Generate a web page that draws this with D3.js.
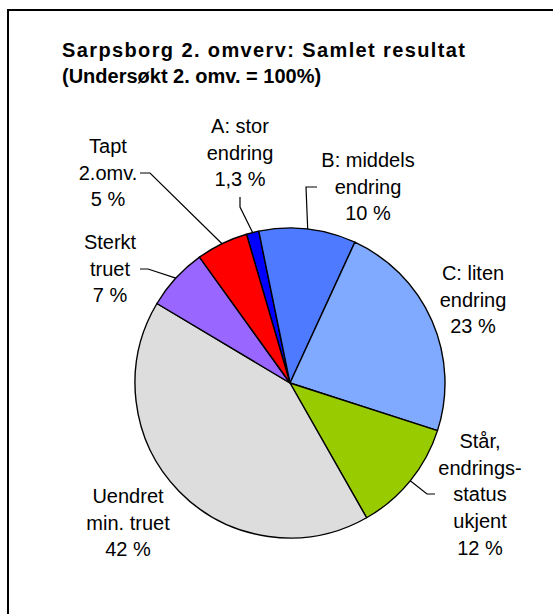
<!DOCTYPE html>
<html>
<head>
<meta charset="utf-8">
<script src="https://cdn.jsdelivr.net/npm/d3@7"></script>
<style>
  html, body { margin: 0; padding: 0; background: #fff; }
  svg { display: block; font-family: "Liberation Sans", Arial, sans-serif; }
</style>
</head>
<body>
<div id="chart"></div>
<script>
// Data
const categories = ["A: stor endring", "B: middels endring", "C: liten endring",
  "Står, endringsstatus ukjent", "Uendret min. truet", "Sterkt truet", "Tapt 2.omv."];
const values = [1.3, 10.1, 23.1, 11.8, 41.8, 6.5, 5.4];
const labelLines = [
  ["A: stor", "endring", "1,3 %"],
  ["B: middels", "endring", "10 %"],
  ["C: liten", "endring", "23 %"],
  ["Står,", "endrings-", "status", "ukjent", "12 %"],
  ["Uendret", "min. truet", "42 %"],
  ["Sterkt", "truet", "7 %"],
  ["Tapt", "2.omv.", "5 %"]
];
const titleLines = ["Sarpsborg 2. omverv: Samlet resultat", "(Undersøkt 2. omv. = 100%)"];

// Layout
const width = 553;
const height = 614;
const cx = 290, cy = 383, radius = 155;
const colors = ["#0000ff", "#4d7aff", "#80aaff", "#99cc00", "#dddddd", "#9966ff", "#ff0000"];
const lineGap = 26.7;
// label block: first baseline, relative to pie centre
const labelPos = [[-50, -250], [78, -216], [183, -103], [190, 65], [-162, 120], [-180, -134], [-182, -230]];
// leader lines: elbow + end point, relative to pie centre (null = no leader)
const leaders = [
  [[-50, -176], [-50, -186]],
  [[16, -196], [27, -196]],
  null,
  [[137, 111], [145, 111]],
  null,
  [[-142, -114], [-150, -114]],
  [[-140, -210], [-150, -210]]
];

const svg = d3.select('#chart')
  .append('svg')
  .attr('width', width)
  .attr('height', height);

// frame (right and bottom edges fall outside the picture)
svg.append('rect')
  .attr('x', 8).attr('y', 10)
  .attr('width', 600).attr('height', 700)
  .attr('fill', 'none')
  .attr('stroke', '#000')
  .attr('stroke-width', 2);

// Title
const titleWidths = [403, null];
svg.selectAll('.title')
  .data(titleLines)
  .enter()
  .append('text')
  .attr('class', 'title')
  .attr('x', 62)
  .attr('y', (d, i) => 57 + i * 26)
  .style('font-size', '20px')
  .style('font-weight', 'bold')
  .each(function (d, i) {
    if (titleWidths[i]) {
      d3.select(this).attr('textLength', titleWidths[i]).attr('lengthAdjust', 'spacing');
    }
  })
  .text(d => d);

const center = svg.append('g')
  .attr('transform', `translate(${cx}, ${cy})`);

const pie = d3.pie()
  .sort(null)
  .startAngle(-16.3 * Math.PI / 180)
  .endAngle(2 * Math.PI - 16.3 * Math.PI / 180);

const arcs = pie(values);
const arc = d3.arc().innerRadius(0).outerRadius(radius);

center.selectAll('.slice')
  .data(arcs)
  .enter()
  .append('path')
  .attr('class', 'slice')
  .attr('d', arc)
  .attr('fill', (d, i) => colors[i])
  .attr('stroke', '#000')
  .attr('stroke-width', 1.4)
  .attr('stroke-linejoin', 'round');

// Leader lines
center.selectAll('.leader')
  .data(arcs.filter((d, i) => leaders[i]))
  .enter()
  .append('polyline')
  .attr('class', 'leader')
  .attr('points', d => {
    const mid = (d.startAngle + d.endAngle) / 2;
    const edge = [Math.sin(mid) * radius, -Math.cos(mid) * radius];
    const [elbow, end] = leaders[d.index];
    return [edge, elbow, end].map(p => p.join(',')).join(' ');
  })
  .attr('fill', 'none')
  .attr('stroke', '#000')
  .attr('stroke-width', 1.2);

// Labels
center.selectAll('.label')
  .data(arcs)
  .enter()
  .append('text')
  .attr('class', 'label')
  .attr('text-anchor', 'middle')
  .style('font-size', '20px')
  .attr('fill', '#000')
  .each(function (d, i) {
    d3.select(this).selectAll('tspan')
      .data(labelLines[i])
      .enter()
      .append('tspan')
      .attr('x', labelPos[i][0])
      .attr('y', (t, j) => labelPos[i][1] + j * lineGap)
      .text(t => t);
  });
</script>
</body>
</html>
